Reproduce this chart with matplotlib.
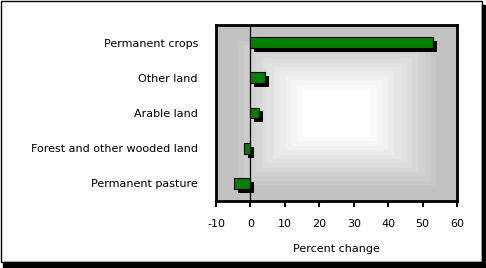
import numpy as np
import matplotlib
matplotlib.use("Agg")
import matplotlib.pyplot as plt
from matplotlib.patches import Rectangle

# chart data
categories = ["Permanent crops", "Other land", "Arable land",
              "Forest and other wooded land", "Permanent pasture"]
values = [53.1, 4.3, 2.4, -2.0, -4.7]
xticks = [-10, 0, 10, 20, 30, 40, 50, 60]

plt.rcParams["font.family"] = "DejaVu Sans"
plt.rcParams["font.size"] = 8

W, H = 486, 268
fig = plt.figure(figsize=(W / 100, H / 100), dpi=100)
ax = fig.add_axes([216 / W, 67 / H, 241 / W, 176 / H])

# rectangular gradient background (grey edges, white centre, banded)
ny, nx = 176, 241
u = np.abs(np.linspace(-1, 1, nx))[None, :]
v = np.abs(np.linspace(-1, 1, ny))[:, None]
d = np.maximum(u, v)
t = np.clip((d - 0.25) / 0.6, 0, 1)
t = np.round(t * 12) / 12
grey = 1 - t * (1 - 0.76)
ax.imshow(grey, cmap="gray", vmin=0, vmax=1, extent=[0, 1, 0, 1],
          transform=ax.transAxes, aspect="auto", zorder=0,
          interpolation="nearest")

y = np.arange(len(categories))
bh = 0.31
# drop shadows, then green bars
ax.barh(y + 0.11, values, left=1.15, height=bh, color="black", zorder=2)
ax.axvline(0, color="black", lw=0.9, zorder=2.5)
ax.barh(y, values, height=bh, color="#008000", edgecolor="black",
        linewidth=0.8, zorder=3)

ax.set_xlim(-10, 60)
ax.set_ylim(4.5, -0.5)
ax.set_xticks(xticks)
ax.set_xticklabels([str(t) for t in xticks])
ax.set_yticks(y)
ax.set_yticklabels(categories)
ax.tick_params(axis="y", length=0, pad=13)
ax.tick_params(axis="x", direction="out", length=4, width=1.5, pad=9)
ax.set_xlabel("Percent change", labelpad=11)
for s in ax.spines.values():
    s.set_linewidth(2)
    s.set_color("black")

# outer frame with drop shadow
fig.patches.append(Rectangle((0.5 / W, 6 / H), 481 / W, 261.5 / H,
                             transform=fig.transFigure, fill=False,
                             edgecolor="black", lw=1))
fig.patches.append(Rectangle((482 / W, 1 / H), 4 / W, 262 / H,
                             transform=fig.transFigure, color="black"))
fig.patches.append(Rectangle((3 / W, 1 / H), 483 / W, 5 / H,
                             transform=fig.transFigure, color="black"))

fig.savefig("out.png", dpi=100)
